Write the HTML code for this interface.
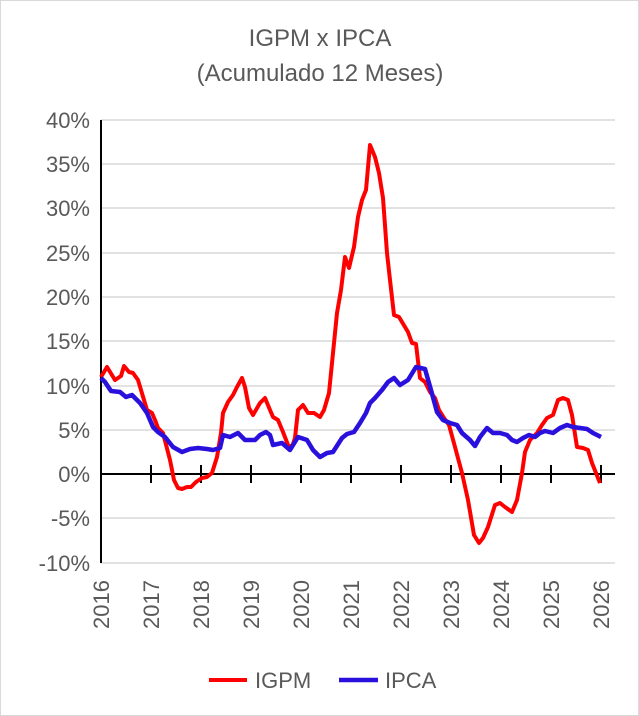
<!DOCTYPE html>
<html><head><meta charset="utf-8"><style>
html,body{margin:0;padding:0;background:#fff}
svg{display:block}
text{font-family:"Liberation Sans",Arial,sans-serif;fill:#595959}
</style></head><body>
<svg width="639" height="716" viewBox="0 0 639 716" xmlns="http://www.w3.org/2000/svg">
<rect x="0.5" y="0.5" width="638" height="715" fill="#fff" stroke="#d9d9d9"/>
<text x="320" y="46" font-size="24" text-anchor="middle">IGPM x IPCA</text>
<text x="320" y="81" font-size="24" text-anchor="middle">(Acumulado 12 Meses)</text>
<g stroke="#d9d9d9" stroke-width="1.5">
<line x1="101" x2="615" y1="120" y2="120"/><line x1="101" x2="615" y1="164" y2="164"/>
<line x1="101" x2="615" y1="208" y2="208"/><line x1="101" x2="615" y1="253" y2="253"/>
<line x1="101" x2="615" y1="297" y2="297"/><line x1="101" x2="615" y1="341" y2="341"/>
<line x1="101" x2="615" y1="386" y2="386"/><line x1="101" x2="615" y1="430" y2="430"/>
<line x1="101" x2="615" y1="518" y2="518"/><line x1="101" x2="615" y1="563" y2="563"/>
</g>
<g font-size="22" text-anchor="end">
<text x="90" y="128">40%</text><text x="90" y="172">35%</text><text x="90" y="216">30%</text>
<text x="90" y="261">25%</text><text x="90" y="305">20%</text><text x="90" y="349">15%</text>
<text x="90" y="394">10%</text><text x="90" y="438">5%</text><text x="90" y="482">0%</text>
<text x="90" y="526">-5%</text><text x="90" y="571">-10%</text>
</g>
<g stroke="#000" stroke-width="2">
<line x1="101" y1="120" x2="101" y2="563"/>
<line x1="101" y1="474" x2="615" y2="474"/>
<line x1="151" y1="465" x2="151" y2="483"/><line x1="201" y1="465" x2="201" y2="483"/>
<line x1="251" y1="465" x2="251" y2="483"/><line x1="301" y1="465" x2="301" y2="483"/>
<line x1="351" y1="465" x2="351" y2="483"/><line x1="401" y1="465" x2="401" y2="483"/>
<line x1="451" y1="465" x2="451" y2="483"/><line x1="501" y1="465" x2="501" y2="483"/>
<line x1="551" y1="465" x2="551" y2="483"/><line x1="601" y1="465" x2="601" y2="483"/>
</g>
<g font-size="22" text-anchor="end">
<text transform="translate(109,580) rotate(-90)">2016</text>
<text transform="translate(159,580) rotate(-90)">2017</text>
<text transform="translate(209,580) rotate(-90)">2018</text>
<text transform="translate(259,580) rotate(-90)">2019</text>
<text transform="translate(309,580) rotate(-90)">2020</text>
<text transform="translate(359,580) rotate(-90)">2021</text>
<text transform="translate(409,580) rotate(-90)">2022</text>
<text transform="translate(459,580) rotate(-90)">2023</text>
<text transform="translate(509,580) rotate(-90)">2024</text>
<text transform="translate(559,580) rotate(-90)">2025</text>
<text transform="translate(609,580) rotate(-90)">2026</text>
</g>
<polyline fill="none" stroke="#ff0000" stroke-width="4" stroke-linejoin="round" points="101,377 107,367 115,380 121,376 124,366 129,372 133,373 138,380 147,410 152,413 155,420 158,428 163,433 170,460 174,480 178,488 182,489 187,487 191,487 196,482 202,478 207,477 212,473 217,457 221,433 223,413 228,402 233,395 237,387 242,378 245,387 249,408 253,415 260,403 265,398 270,410 273,417 278,420 283,432 288,445 292,447 295,438 298,410 303,405 308,413 314,413 320,417 324,410 329,393 332,363 337,313 341,290 345,257 349,268 354,247 358,217 362,200 366,190 370,145 375,157 379,173 383,198 387,253 390,280 394,315 399,317 405,327 408,332 412,343 416,344 420,378 425,382 430,392 435,398 439,410 444,418 449,425 455,447 462,473 468,500 474,535 479,543 483,538 488,527 495,505 500,503 505,507 512,512 517,500 522,473 525,452 530,440 537,433 542,425 547,418 553,415 558,400 563,398 568,400 572,415 577,447 583,448 588,450 592,463 600,483"/>
<polyline fill="none" stroke="#2a10dc" stroke-width="4.5" stroke-linejoin="round" points="101,378 105,382 111,391 120,392 126,397 132,395 140,403 147,413 153,427 158,432 165,437 173,447 182,452 190,449 198,448 207,449 213,450 220,448 223,435 230,437 238,433 245,440 255,440 260,435 266,432 270,435 273,445 282,443 290,450 298,437 307,440 313,450 320,457 327,453 333,452 342,438 347,434 354,432 360,423 366,413 370,403 375,398 382,390 388,382 394,378 400,385 408,380 416,367 425,369 431,390 437,412 443,420 450,423 457,425 462,433 470,440 475,446 480,437 487,428 493,433 500,433 507,435 512,440 517,442 523,438 529,435 535,437 540,433 545,431 553,433 560,428 567,425 573,427 587,429 593,433 601,437"/>
<line x1="209" y1="680" x2="247" y2="680" stroke="#ff0000" stroke-width="4"/>
<text x="255" y="688" font-size="22">IGPM</text>
<line x1="339" y1="680" x2="378" y2="680" stroke="#2a10dc" stroke-width="4.5"/>
<text x="385" y="688" font-size="22">IPCA</text>
</svg>
</body></html>
